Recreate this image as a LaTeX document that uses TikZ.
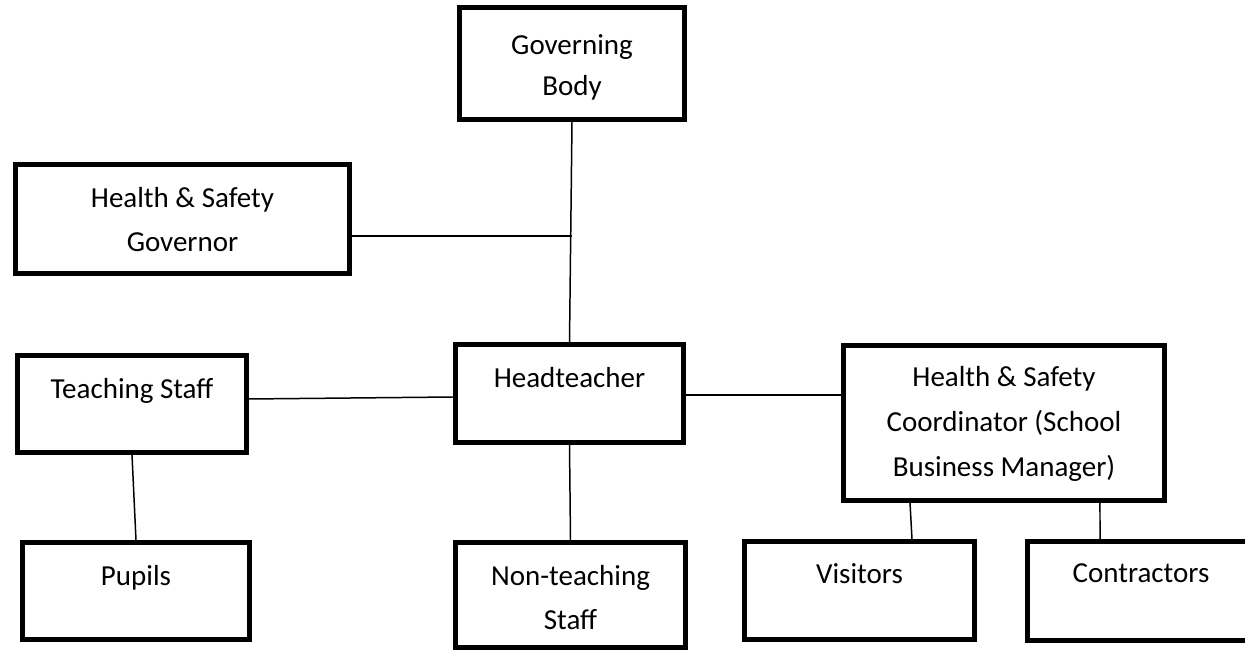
\documentclass[tikz,border=0pt]{standalone}
\usepackage{fontspec}
\setmainfont{Carlito}
\usetikzlibrary{positioning}

\begin{document}
\begin{tikzpicture}[x=0.02cm, y=-0.02cm,
    box/.style={draw, line width=2.7pt, inner sep=0pt},
    lbl/.style={anchor=north, inner sep=0pt, align=center,
        font=\fontsize{16.5}{25.5}\selectfont},
    link/.style={line width=0.85pt}]
    \useasboundingbox (0,0) rectangle (1245,651);

    % boxes
    \node[box, minimum width=4.5cm, minimum height=2.24cm] (gov) at (572,63.5) {};
    \node[box, minimum width=6.68cm, minimum height=2.18cm] (hsgov) at (182.5,219) {};
    \node[box, minimum width=4.58cm, minimum height=1.94cm] (teach) at (132,404) {};
    \node[box, minimum width=4.56cm, minimum height=1.96cm] (head) at (569.5,393.5) {};
    \node[box, minimum width=6.42cm, minimum height=3.1cm] (coord) at (1004,423) {};
    \node[box, minimum width=4.54cm, minimum height=1.94cm] (pupils) at (136,591) {};
    \node[box, minimum width=4.6cm, minimum height=2.1cm] (nonteach) at (570.5,595) {};
    \node[box, minimum width=4.6cm, minimum height=1.96cm] (visit) at (859.5,590.5) {};
    \node[box, minimum width=4.54cm, minimum height=1.98cm] (contr) at (1141,591) {};

    % texts
    \node[lbl, font=\fontsize{16.5}{23.2}\selectfont] (govtxt) at ([yshift=-0.59cm]gov.north) {Governing\\Body};
    \node[lbl] (hsgovtxt) at ([yshift=-0.49cm]hsgov.north) {Health \& Safety\\Governor};
    \node[lbl] (teachtxt) at ([yshift=-0.49cm]teach.north) {Teaching Staff};
    \node[lbl] (headtxt) at ([yshift=-0.5cm]head.north) {Headteacher};
    \node[lbl] (coordtxt) at ([yshift=-0.46cm]coord.north) {Health \& Safety\\Coordinator (School\\Business Manager)};
    \node[lbl] (pupilstxt) at ([yshift=-0.49cm]pupils.north) {Pupils};
    \node[lbl] (nonteachtxt) at ([yshift=-0.49cm]nonteach.north) {Non-teaching\\Staff};
    \node[lbl] (visittxt) at ([yshift=-0.49cm]visit.north) {Visitors};
    \node[lbl] (contrtxt) at ([yshift=-0.49cm]contr.north) {Contractors};

    % connectors
    \coordinate (jgov) at ([yshift=-0.34cm]gov.south |- hsgov.east);
    \draw[link] (gov.south) -- (head.north);
    \draw[link] (hsgov.east |- jgov) -- (jgov);
    \draw[link] ([yshift=0.1cm]teach.east) -- ([yshift=-0.07cm]head.west);
    \draw[link] ([yshift=-0.03cm]head.east) -- ([yshift=-0.03cm]head.east -| coord.west);
    \draw[link] (teach.south) -- (pupils.north);
    \draw[link] (head.south) -- (nonteach.north);
    \draw[link] ([xshift=-1.88cm]coord.south) -- ([xshift=1.05cm]visit.north);
    \draw[link] ([xshift=1.92cm]coord.south) -- ([xshift=-0.82cm]contr.north);
\end{tikzpicture}
\end{document}
